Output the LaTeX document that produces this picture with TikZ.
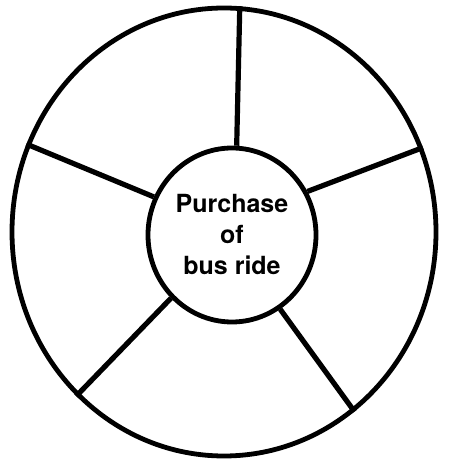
\documentclass[tikz,border=0pt]{standalone}
\usepackage{fontspec}
\setmainfont{TeX Gyre Heros}
\usetikzlibrary{shapes.geometric, positioning}
\tikzset{
    wheel_rim/.style={
        ellipse, draw=black, line width=4.8pt,
        minimum width=424pt, minimum height=448pt, inner sep=0pt
    },
    wheel_hub/.style={
        ellipse, draw=black, line width=4.8pt, fill=white,
        minimum width=168pt, minimum height=174pt, inner sep=0pt,
        align=center, font=\fontsize{25}{31}\selectfont\bfseries
    },
    spoke_line/.style={
        draw=black, line width=5.2pt
    }
}
\begin{document}
\begin{tikzpicture}[x=1pt, y=1pt]

    \useasboundingbox (0, 0) rectangle (450, 460);

    \node[wheel_rim] (rim) at (224, 228) {};
    \node[wheel_hub] (hub) at (232, 225) {Purchase\\of\\bus ride};

    \draw[spoke_line] (hub.87) -- (rim.86);
    \draw[spoke_line] (hub.30) -- (rim.23);
    \draw[spoke_line] (hub.-57) -- (rim.-54);
    \draw[spoke_line] (hub.226) -- (rim.228);
    \draw[spoke_line] (hub.154) -- (rim.156);

\end{tikzpicture}
\end{document}
